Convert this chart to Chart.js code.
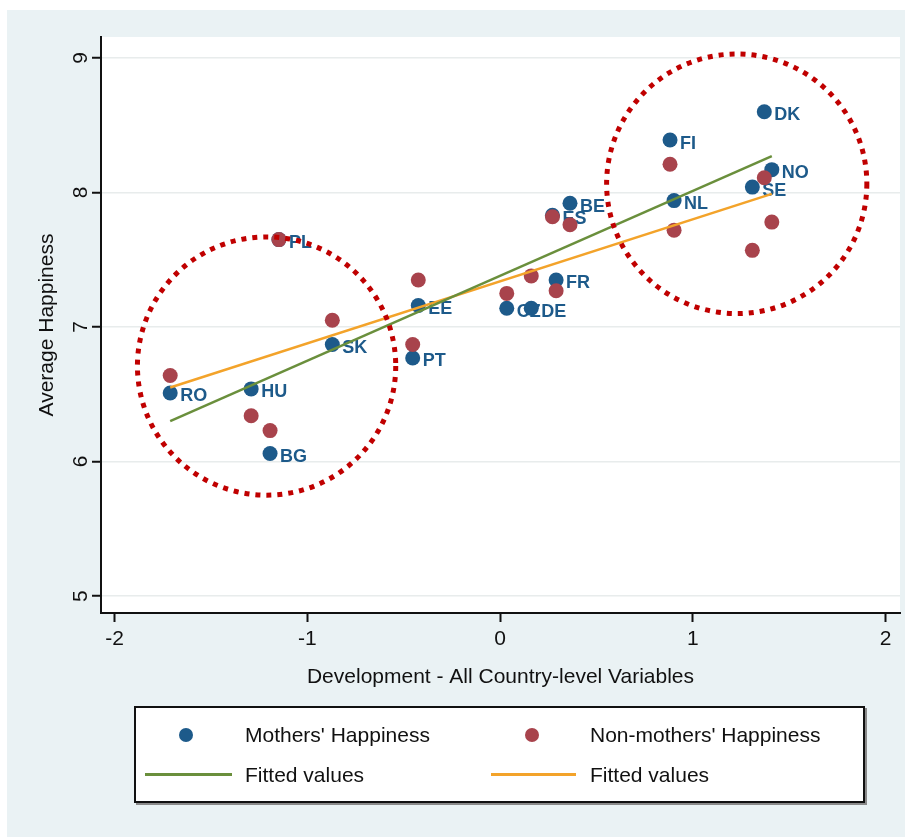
<!DOCTYPE html>
<html>
<head>
<meta charset="utf-8">
<script src="https://cdn.jsdelivr.net/npm/chart.js@4.4.1/dist/chart.umd.min.js"></script>
<style>
  html, body { margin: 0; padding: 0; background: #fff; }
  #wrap { position: relative; width: 912px; height: 837px; overflow: hidden; }
  #bg { position: absolute; left: 7px; top: 10px; width: 898px; height: 827px; background: #eaf2f4; }
  #chart { position: absolute; left: 0; top: 0; }
  #legend {
    position: absolute; left: 134px; top: 706px; width: 727px; height: 93px;
    border: 2px solid #111; background: #fff; box-shadow: 2px 2px 0 #8a8a8a;
    font-family: 'Liberation Sans Narrow', 'Arial Narrow', 'Liberation Sans', sans-serif;
    font-size: 21px; color: #111;
  }
  #legend .dot { position: absolute; width: 14px; height: 14px; border-radius: 50%; top: 20px; }
  #legend .ln { position: absolute; height: 3px; top: 65px; }
  #legend .txt { position: absolute; line-height: 26px; white-space: nowrap; }
</style>
</head>
<body>
<div id="wrap">
  <div id="bg"></div>
  <canvas id="chart" width="912" height="837"></canvas>
  <div id="legend">
    <div class="dot" style="left:43px;background:#1d5a8a"></div>
    <div class="txt" style="left:109px;top:14px">Mothers' Happiness</div>
    <div class="dot" style="left:389px;background:#a8434c"></div>
    <div class="txt" style="left:454px;top:14px">Non-mothers' Happiness</div>
    <div class="ln" style="left:9px;width:87px;background:#6a8f3c"></div>
    <div class="txt" style="left:109px;top:54px">Fitted values</div>
    <div class="ln" style="left:355px;width:85px;background:#f3a32a"></div>
    <div class="txt" style="left:454px;top:54px">Fitted values</div>
  </div>
</div>
<script>
// 国ごとの値（図から目で読んだもの）
const COUNTRIES = ['RO', 'HU', 'BG', 'PL', 'SK', 'PT', 'EE', 'CZ', 'DE', 'FR', 'ES', 'BE', 'FI', 'NL', 'DK', 'SE', 'NO'];
const DEV_INDEX = [-1.711, -1.291, -1.193, -1.147, -0.870, -0.453, -0.424, 0.035, 0.162, 0.291, 0.272, 0.363, 0.882, 0.903, 1.371, 1.309, 1.410];
const MOTHERS = [6.51, 6.54, 6.06, 7.65, 6.87, 6.77, 7.16, 7.14, 7.14, 7.35, 7.83, 7.92, 8.39, 7.94, 8.60, 8.04, 8.17];
const NON_MOTHERS = [6.64, 6.34, 6.23, 7.65, 7.05, 6.87, 7.35, 7.25, 7.38, 7.27, 7.82, 7.76, 8.21, 7.72, 8.11, 7.57, 7.78];

// 回帰直線の両端
const FIT_X = [-1.711, 1.410];
const MOTHERS_FIT = [6.30, 8.27];
const NON_MOTHERS_FIT = [6.55, 7.99];

const X_TICKS = [-2, -1, 0, 1, 2];
const Y_TICKS = [5, 6, 7, 8, 9];

// 赤い点線の丸（中心と半径はデータ単位）
const RINGS = [
  { cx: -1.211, cy: 6.71, rx: 0.670, ry: 0.960 },
  { cx: 1.228, cy: 8.065, rx: 0.675, ry: 0.965 },
];

const FONT = "'Liberation Sans Narrow', 'Arial Narrow', 'Liberation Sans', sans-serif";
const BLUE = '#1d5a8a';
const RED = '#a8434c';

const pts = (xs, ys) => xs.map((x, i) => ({ x, y: ys[i] }));

const plotBg = {
  id: 'plotBg',
  beforeDraw(chart) {
    const { ctx, chartArea: a } = chart;
    ctx.save();
    ctx.fillStyle = '#fff';
    ctx.fillRect(a.left, a.top, a.right - a.left, a.bottom - a.top);
    ctx.restore();
  },
};

// ラベルは母親の点の直前に描く → 隣の点や赤い点が上に重なる
const countryLabels = {
  id: 'countryLabels',
  beforeDatasetDraw(chart, args) {
    if (args.index !== 0) return;
    const { ctx } = chart;
    ctx.save();
    ctx.font = `bold 18px ${FONT}`;
    ctx.fillStyle = BLUE;
    ctx.textAlign = 'left';
    ctx.textBaseline = 'middle';
    args.meta.data.forEach((p, i) => ctx.fillText(COUNTRIES[i], p.x + 10, p.y + 3.5));
    ctx.restore();
  },
};

const yTickLabels = {
  id: 'yTickLabels',
  afterDraw(chart) {
    const { ctx } = chart;
    const ys = chart.scales.y;
    ctx.save();
    ctx.font = `21px ${FONT}`;
    ctx.fillStyle = '#111';
    ctx.textAlign = 'center';
    ctx.textBaseline = 'middle';
    for (const v of Y_TICKS) {
      ctx.save();
      ctx.translate(81, ys.getPixelForValue(v));
      ctx.rotate(-Math.PI / 2);
      ctx.fillText(String(v), 0, 0);
      ctx.restore();
    }
    ctx.restore();
  },
};

const rings = {
  id: 'rings',
  afterDatasetsDraw(chart) {
    const { ctx, scales: { x, y } } = chart;
    ctx.save();
    ctx.strokeStyle = '#c00000';
    ctx.lineWidth = 5;
    ctx.setLineDash([5, 6]);
    for (const r of RINGS) {
      const px = x.getPixelForValue(r.cx);
      const py = y.getPixelForValue(r.cy);
      const rx = x.getPixelForValue(r.cx + r.rx) - px;
      const ry = py - y.getPixelForValue(r.cy + r.ry);
      ctx.beginPath();
      ctx.ellipse(px, py, rx, ry, 0, 0, Math.PI * 2);
      ctx.stroke();
    }
    ctx.restore();
  },
};

new Chart(document.getElementById('chart').getContext('2d'), {
  type: 'scatter',
  data: {
    datasets: [
      { label: "Mothers' Happiness", data: pts(DEV_INDEX, MOTHERS), order: 2,
        pointRadius: 7.5, pointBackgroundColor: BLUE, pointBorderWidth: 0 },
      { label: "Non-mothers' Happiness", data: pts(DEV_INDEX, NON_MOTHERS), order: 1,
        pointRadius: 7.5, pointBackgroundColor: RED, pointBorderWidth: 0 },
      { label: 'Fitted values', data: pts(FIT_X, MOTHERS_FIT), order: 0, showLine: true,
        pointRadius: 0, borderColor: '#6a8f3c', borderWidth: 2.5 },
      { label: 'Fitted values', data: pts(FIT_X, NON_MOTHERS_FIT), order: 0, showLine: true,
        pointRadius: 0, borderColor: '#f3a32a', borderWidth: 2.5 },
    ],
  },
  options: {
    responsive: false,
    animation: false,
    layout: { padding: { top: 37, right: 12, bottom: 144, left: 0 } },
    plugins: { legend: { display: false }, tooltip: { enabled: false } },
    scales: {
      x: {
        type: 'linear', min: -2.07, max: 2.075,
        afterFit: (s) => { s.height = 80; },
        afterBuildTicks: (s) => { s.ticks = X_TICKS.map((v) => ({ value: v })); },
        ticks: { font: { family: FONT, size: 21 }, color: '#111', padding: 5, maxRotation: 0 },
        grid: { drawOnChartArea: false, tickLength: 9, tickColor: '#111', tickWidth: 2 },
        border: { color: '#111', width: 2 },
        title: { display: true, text: 'Development - All Country-level Variables',
          font: { family: FONT, size: 21 }, color: '#111', padding: { top: 0, bottom: 3 } },
      },
      y: {
        type: 'linear', min: 4.874, max: 9.156,
        afterFit: (s) => { s.width = 101; },
        afterBuildTicks: (s) => { s.ticks = Y_TICKS.map((v) => ({ value: v })); },
        ticks: { display: false },
        grid: { color: '#e8ecec', lineWidth: 1.5, tickLength: 9, tickColor: '#111', tickWidth: 2 },
        border: { color: '#111', width: 2 },
        title: { display: true, text: 'Average Happiness',
          font: { family: FONT, size: 21 }, color: '#111', padding: { top: 35, bottom: 0 } },
      },
    },
  },
  plugins: [plotBg, countryLabels, yTickLabels, rings],
});
</script>
</body>
</html>
